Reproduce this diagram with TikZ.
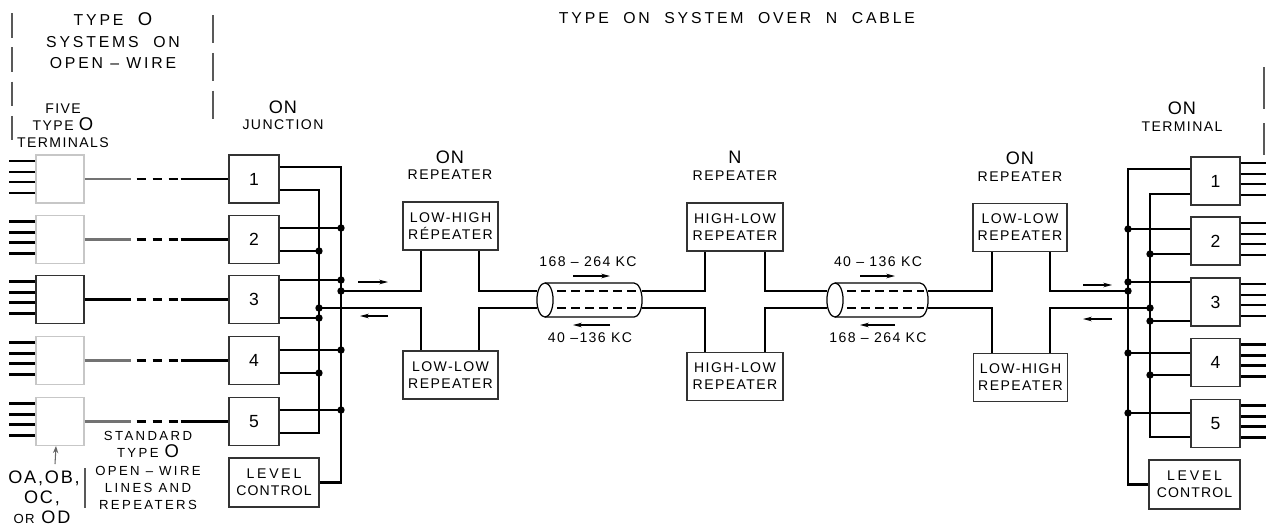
\documentclass[tikz,border=0pt]{standalone}
\usepackage{fontspec}
\setmainfont{Liberation Sans}[LetterSpace=10]
\usetikzlibrary{arrows.meta}
\newcommand\fT{\fontsize{9}{12.2}\selectfont\addfontfeatures{LetterSpace=18}}
\newcommand\fBig{\fontsize{10.5}{12}\selectfont}
\newcommand\fOn{\fontsize{10.3}{12}\selectfont\addfontfeatures{LetterSpace=5}}
\newcommand\fSub{\fontsize{8}{9.7}\selectfont}
\newcommand\fBox{\fontsize{8}{9.7}\selectfont}
\newcommand\fNum{\fontsize{10}{12}\selectfont}
\newcommand\fStd{\fontsize{7.5}{9.85}\selectfont\addfontfeatures{LetterSpace=18}}
\newcommand\fOA{\fontsize{10.3}{11}\selectfont}
\newcommand\jdot[1]{\fill #1 circle[radius=2.1pt];}
\begin{document}
\begin{tikzpicture}[x=0.02cm,y=-0.02cm,
  wire/.style={line width=1.5pt},
  feed/.style={line width=1.2pt},
  box/.style={draw=black!80, line width=0.6pt, inner sep=0, align=center, fill=white},
  faint/.style={draw=black!22, line width=0.6pt, inner sep=0},
  wh/.style 2 args={minimum width=#1*0.02cm, minimum height=#2*0.02cm},
  lbl/.style={inner sep=0, align=center},
  sepl/.style={draw=black!65, line width=0.6pt},
  dirarrow/.style={line width=0.7pt, -{Stealth[length=5pt,width=2.6pt]}},
  stub/.style={line width=1.6pt},
  cab/.style={line width=0.7pt}]
\useasboundingbox (0,0) rectangle (1266,525);

% ---------- separators ----------
\draw[sepl, dash pattern=on 14pt off 5.5pt] (12,13) -- (12,150);
\draw[sepl, dash pattern=on 16pt off 5.5pt] (213,15) -- (213,127);
\draw[sepl] (85,468) -- (85,508);
\draw[sepl, dash pattern=on 24pt off 8pt] (1264,67) -- (1264,155);

% ---------- headings ----------
\node[lbl, font=\fT] (hdrO) at (113,41) {TYPE\ \ {\fBig O}\\SYSTEMS\ \ ON\\OPEN – WIRE};
\node[lbl, font=\fT] (title) at (737,18) {TYPE\ \ ON\ \ SYSTEM\ \ OVER\ \ N\ \ CABLE};
\node[lbl, font=\fSub] (five) at (63,126) {FIVE\\TYPE\ {\fBig O}\\TERMINALS};
\node[lbl, font=\fOn] (jOn) at (283,107) {ON};
\node[lbl, font=\fSub] (jSub) at (283,125) {JUNCTION};
\node[lbl, font=\fOn] (rLOn) at (450,157) {ON};
\node[lbl, font=\fSub] (rLSub) at (450,175) {REPEATER};
\node[lbl, font=\fOn] (rNOn) at (735,157) {N};
\node[lbl, font=\fSub] (rNSub) at (735,176) {REPEATER};
\node[lbl, font=\fOn] (rROn) at (1020,158) {ON};
\node[lbl, font=\fSub] (rRSub) at (1020,177) {REPEATER};
\node[lbl, font=\fOn] (tOn) at (1182,108) {ON};
\node[lbl, font=\fSub] (tSub) at (1182,127) {TERMINAL};

% ---------- left type O terminals ----------
\node[faint, wh={48}{48}] (tL1) at (60,179) {};
\node[faint, wh={48}{48}] (tL2) at (60,239.5) {};
\node[box, wh={48}{48}] (tL3) at (60,299.5) {};
\node[faint, wh={48}{48}] (tL4) at (60,360.5) {};
\node[faint, wh={48}{48}] (tL5) at (60,421.5) {};
\foreach \t in {tL1,tL2,tL3,tL4,tL5}{
  \foreach \d in {-18,-7,3,14}{
    \draw[stub] (\t.west) ++(0,\d) -- ++(-26,0);
  }
}

% ---------- junction boxes ----------
\node[box, wh={50}{48}, font=\fNum] (j1) at (254,179) {1};
\node[box, wh={50}{48}, font=\fNum] (j2) at (254,239.5) {2};
\node[box, wh={50}{48}, font=\fNum] (j3) at (254,299.5) {3};
\node[box, wh={50}{48}, font=\fNum] (j4) at (254,360.5) {4};
\node[box, wh={50}{48}, font=\fNum] (j5) at (254,421.5) {5};
\node[box, wh={90}{49}, font=\fBox] (lcL) at (274,482.5) {\addfontfeatures{LetterSpace=20}LEVEL\\\addfontfeatures{LetterSpace=8}CONTROL};

% feeders: open-wire lines
\foreach \i/\c in {1/black!55,2/black!55,3/black,4/black!55,5/black!55}{
  \draw[feed, \c] (tL\i.east) -- ++(46,0) coordinate (fa\i);
  \draw[feed, dash pattern=on 5.5pt off 3.6pt] (fa\i) ++(6,0) -- ++(41,0) coordinate (fb\i);
  \draw[feed] (fb\i) ++(3,0) -- (j\i.west);
}

% ---------- left junction buses ----------
\coordinate (LA) at (341,0);
\coordinate (LB) at (319,0);
\draw[wire] (j1.east |- 0,167) -| (LA |- lcL.east) -- (lcL.east);
\draw[wire] (j1.east |- 0,190) -| (LB |- 0,433) -- (j5.east |- 0,433);
\draw[wire] (j2.east |- 0,228) -- (LA |- 0,228); \jdot{(LA |- 0,228)}
\draw[wire] (j2.east |- 0,251) -- (LB |- 0,251); \jdot{(LB |- 0,251)}
\draw[wire] (j3.east |- 0,280) -- (LA |- 0,280); \jdot{(LA |- 0,280)}
\draw[wire] (j3.east |- 0,318) -- (LB |- 0,318); \jdot{(LB |- 0,318)}
\draw[wire] (j4.east |- 0,350) -- (LA |- 0,350); \jdot{(LA |- 0,350)}
\draw[wire] (j4.east |- 0,373) -- (LB |- 0,373); \jdot{(LB |- 0,373)}
\draw[wire] (j5.east |- 0,410) -- (LA |- 0,410); \jdot{(LA |- 0,410)}

% ---------- repeaters ----------
\node[box, wh={95}{48}, font=\fBox] (rLu) at (450.5,226) {LOW-HIGH\\RÉPEATER};
\node[box, wh={95}{48}, font=\fBox] (rLl) at (450.5,375) {LOW-LOW\\REPEATER};
\node[box, wh={96}{48}, font=\fBox] (rNu) at (735,227) {HIGH-LOW\\REPEATER};
\node[box, wh={96}{48}, font=\fBox] (rNl) at (735,376.5) {HIGH-LOW\\REPEATER};
\node[box, wh={94}{48}, font=\fBox] (rRu) at (1020,227.5) {LOW-LOW\\REPEATER};
\node[box, wh={94}{48}, font=\fBox] (rRl) at (1020.5,377.5) {LOW-HIGH\\REPEATER};

% ---------- cables ----------
\coordinate (c1L) at (537,300);
\coordinate (c1R) at (642,300);
\coordinate (c2L) at (827,300);
\coordinate (c2R) at (928,300);
\foreach \l/\r in {545/634,835/920}{
  \draw[cab] (\l,300) ellipse[x radius=4.6pt, y radius=9.7pt];
  \draw[cab] (\l,283) -- (\r,283) arc[start angle=90, end angle=-90, x radius=4.6pt, y radius=9.7pt] -- (\l,317);
  \draw[cab, line width=1pt, dash pattern=on 5pt off 3pt] (\l+12,291) -- (\r+4,291);
  \draw[cab, line width=1pt, dash pattern=on 5pt off 3pt] (\l+12,308) -- (\r+4,308);
}

% ---------- right terminal ----------
\node[box, wh={49}{48}, font=\fNum] (tR1) at (1215.5,181) {1};
\node[box, wh={49}{48}, font=\fNum] (tR2) at (1215.5,241) {2};
\node[box, wh={49}{48}, font=\fNum] (tR3) at (1215.5,302) {3};
\node[box, wh={49}{48}, font=\fNum] (tR4) at (1215.5,362.5) {4};
\node[box, wh={49}{48}, font=\fNum] (tR5) at (1215.5,423.5) {5};
\node[box, wh={91}{49}, font=\fBox] (lcR) at (1194.5,484.5) {\addfontfeatures{LetterSpace=20}LEVEL\\\addfontfeatures{LetterSpace=8}CONTROL};
\foreach \t in {tR1,tR2,tR3,tR4,tR5}{
  \foreach \d in {-18,-7,3,14}{
    \draw[stub] (\t.east) ++(0,\d) -- ++(26,0);
  }
}
\coordinate (RA) at (1128,0);
\coordinate (RB) at (1150,0);
\draw[wire] (tR1.west |- 0,169) -| (RA |- lcR.west) -- (lcR.west);
\draw[wire] (tR1.west |- 0,194) -| (RB |- 0,437) -- (tR5.west |- 0,437);
\draw[wire] (tR2.west |- 0,229) -- (RA |- 0,229); \jdot{(RA |- 0,229)}
\draw[wire] (tR2.west |- 0,254) -- (RB |- 0,254); \jdot{(RB |- 0,254)}
\draw[wire] (tR3.west |- 0,282) -- (RA |- 0,282); \jdot{(RA |- 0,282)}
\draw[wire] (tR3.west |- 0,321) -- (RB |- 0,321); \jdot{(RB |- 0,321)}
\draw[wire] (tR4.west |- 0,353) -- (RA |- 0,353); \jdot{(RA |- 0,353)}
\draw[wire] (tR4.west |- 0,375) -- (RB |- 0,375); \jdot{(RB |- 0,375)}
\draw[wire] (tR5.west |- 0,413) -- (RA |- 0,413); \jdot{(RA |- 0,413)}

% ---------- trunks ----------
\draw[wire] (LA |- 0,291) -| (rLu.south -| 421,0); \jdot{(LA |- 0,291)}
\draw[wire] (LB |- 0,308) -| (rLl.north -| 421,0); \jdot{(LB |- 0,308)}
\draw[wire] (rLu.south -| 479,0) |- (c1L |- 0,291);
\draw[wire] (rLl.north -| 479,0) |- (c1L |- 0,308);
\draw[wire] (c1R |- 0,291) -| (rNu.south -| 705,0);
\draw[wire] (c1R |- 0,308) -| (rNl.north -| 705,0);
\draw[wire] (rNu.south -| 765,0) |- (c2L |- 0,291);
\draw[wire] (rNl.north -| 765,0) |- (c2L |- 0,308);
\draw[wire] (c2R |- 0,291) -| (rRu.south -| 992,0);
\draw[wire] (c2R |- 0,308) -| (rRl.north -| 992,0);
\draw[wire] (rRu.south -| 1050,0) |- (RA |- 0,291); \jdot{(RA |- 0,291)}
\draw[wire] (rRl.north -| 1050,0) |- (RB |- 0,308); \jdot{(RB |- 0,308)}

% ---------- direction arrows ----------
\draw[dirarrow] (358,282) -- (388,282);
\draw[dirarrow] (388,316) -- (360,316);
\draw[dirarrow] (573,276) -- (610,276);
\draw[dirarrow] (610,325) -- (573,325);
\draw[dirarrow] (860,276) -- (895,276);
\draw[dirarrow] (895,325) -- (860,325);
\draw[dirarrow] (1083,285) -- (1112,285);
\draw[dirarrow] (1112,319) -- (1083,319);

% ---------- cable labels ----------
\node[lbl, font=\fSub] (k1) at (588,262) {168 – 264 KC};
\node[lbl, font=\fSub] (k2) at (590,338) {40 –136 KC};
\node[lbl, font=\fSub] (k3) at (878,262) {40 – 136 KC};
\node[lbl, font=\fSub] (k4) at (878,338) {168 – 264 KC};

% ---------- bottom left labels ----------
\node[lbl, font=\fOA, anchor=base] (oa1) at (44,483) {OA,OB,};
\node[lbl, font=\fOA, anchor=base] (oa2) at (42,503) {OC,};
\node[lbl, font=\fOA, anchor=base] (oa3) at (42,523) {{\fontsize{7.5}{9}\selectfont OR} OD};
\draw[line width=0.6pt, black!60, -{Stealth[length=4pt,width=3pt]}] (oa1.north -| 55,0) ++(0,-6) -- (tL5.south -| 56,0);
\node[lbl, font=\fStd] (std) at (148,470.5) {STANDARD\\TYPE\ {\fBig O}\\OPEN – WIRE\\LINES AND\\REPEATERS};
\end{tikzpicture}
\end{document}
